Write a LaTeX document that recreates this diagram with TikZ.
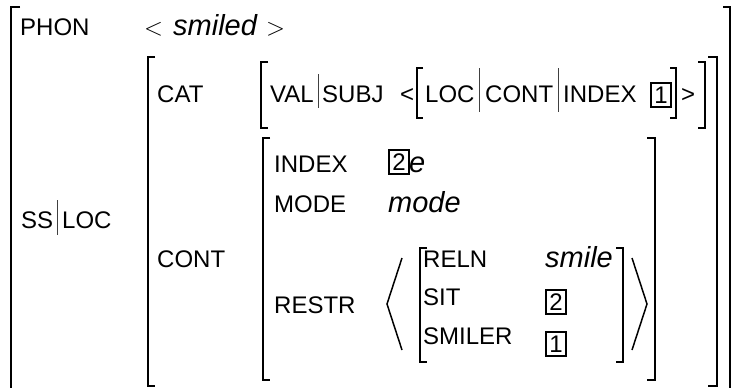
\documentclass[tikz,border=0pt]{standalone}
\usepackage{fontspec}
\setmainfont{Liberation Sans}
\begin{document}
\begin{tikzpicture}[x=1pt,y=-1pt,
  lbl/.style={anchor=base west,inner sep=0pt,font=\fontsize{24}{28}\selectfont},
  itl/.style={anchor=base west,inner sep=0pt,font=\fontsize{29}{33}\selectfont\itshape},
  brk/.style={line width=2pt},
  angl/.style={line width=1.5pt},
  attrbar/.style={line width=1pt,black!75},
  tagbox/.style={draw,line width=2.2pt,minimum width=20pt,minimum height=24pt,inner sep=0pt,anchor=north west,font=\fontsize{24}{24}\selectfont}]
\useasboundingbox (0,0) rectangle (731,388);

% texts
\node[lbl] (phon) at (20,35) {PHON};
\node[lbl] (ltA) at (144,35) {$<$};
\node[itl] (smiled) at (173,35) {smiled};
\node[lbl] (gtA) at (266,35) {$>$};

\node[lbl] (cat) at (157,102) {CAT};
\node[lbl] (val) at (270,102) {VAL};
\node[lbl] (subj) at (322,102) {SUBJ};
\node[lbl] (ltB) at (400,102) {<};
\node[lbl] (loc1) at (425,102) {LOC};
\node[lbl] (cont1) at (485,102) {CONT};
\node[lbl] (index1) at (563,102) {INDEX};
\node[tagbox] (tagA) at (650,82) {1};
\node[lbl] (gtB) at (681,102) {>};

\node[lbl] (ss) at (21,228) {SS};
\node[lbl] (loc0) at (62,228) {LOC};

\node[lbl] (cont0) at (157,267) {CONT};
\node[lbl] (index2) at (274,172) {INDEX};
\node[tagbox] (tagB) at (388,149) {2};
\node[itl] (e) at (409,172) {e};
\node[lbl] (mode) at (274,212) {MODE};
\node[itl] (modev) at (388,212) {mode};
\node[lbl] (restr) at (274,313) {RESTR};

\node[lbl] (reln) at (423,267) {RELN};
\node[itl] (smile) at (545,267) {smile};
\node[lbl] (sit) at (423,305) {SIT};
\node[tagbox] (tagC) at (545,289) {2};
\node[lbl] (smiler) at (423,344) {SMILER};
\node[tagbox] (tagD) at (545,331) {1};

% path bars
\draw[attrbar] (318,74) -- (318,108);
\draw[attrbar] (57,200) -- (57,235);
\draw[attrbar] (479,68) -- (479,112);
\draw[attrbar] (558,68) -- (558,112);

% brackets
\draw[brk] (20,7) -- (11,7) -- (11,392);
\draw[brk] (723,7) -- (730,7) -- (730,392);

\draw[brk] (155,57) -- (148,57) -- (148,386) -- (155,386);
\draw[brk] (708,57) -- (717,57) -- (717,386) -- (708,386);

\draw[brk] (268,62) -- (261,62) -- (261,128) -- (268,128);
\draw[brk] (698,62) -- (705,62) -- (705,128) -- (698,128);

\draw[brk] (423,68) -- (417,68) -- (417,118) -- (423,118);
\draw[brk] (670,68) -- (676,68) -- (676,118) -- (670,118);

\draw[brk] (270,138) -- (263,138) -- (263,380) -- (270,380);
\draw[brk] (647,138) -- (655,138) -- (655,380) -- (647,380);

\draw[brk] (427,248) -- (420,248) -- (420,362) -- (427,362);
\draw[brk] (616,248) -- (623,248) -- (623,362) -- (616,362);

\draw[angl] (402,258) -- (387,304) -- (402,350);
\draw[angl] (632,258) -- (647,304) -- (632,350);
\end{tikzpicture}
\end{document}
